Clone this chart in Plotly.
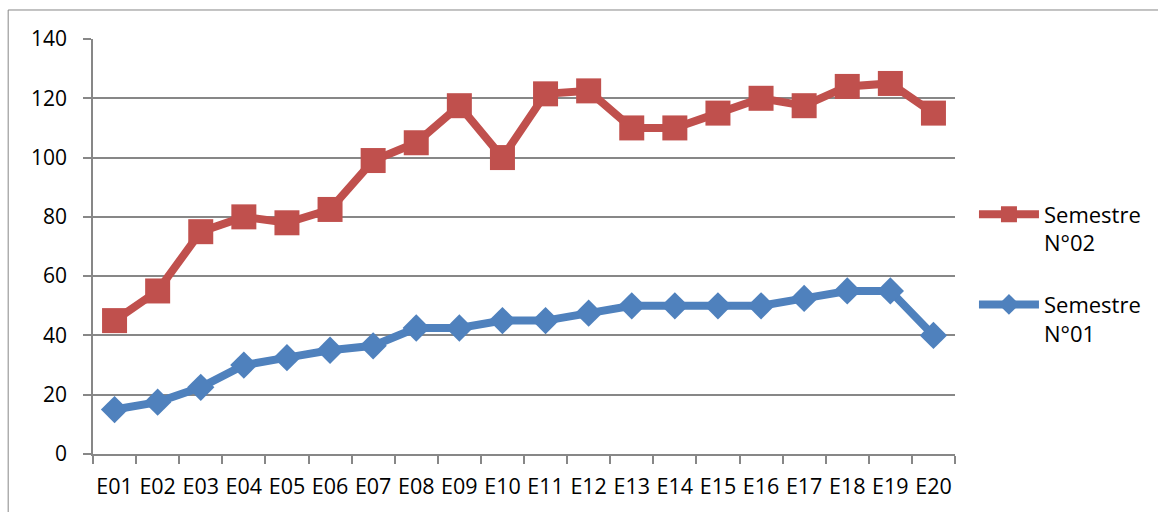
import plotly.graph_objects as go

categories = ["E%02d" % i for i in range(1, 21)]
sem01 = [15, 17.5, 22.5, 30, 32.5, 35, 36.5, 42.5, 42.5, 45, 45, 47.5, 50, 50, 50, 50, 52.5, 55, 55, 40]
sem02 = [45, 55, 75, 80, 78, 82.5, 99, 105, 117.5, 100, 121.5, 122.5, 110, 110, 115, 120, 117.5, 124, 125, 115]
y_ticks = [0, 20, 40, 60, 80, 100, 120, 140]

RED = "#C0504D"
BLUE = "#4F81BD"
GRID = "#878787"
FONT = "Open Sans"

fig = go.Figure()
fig.add_trace(go.Scatter(
    x=categories, y=sem01, name="Semestre<br>N°01", mode="lines+markers",
    line=dict(color=BLUE, width=8), legendgroup="a", legendrank=2,
    marker=dict(symbol="diamond", size=21, color=BLUE)))
fig.add_trace(go.Scatter(
    x=categories, y=sem02, name="Semestre<br>N°02", mode="lines+markers",
    line=dict(color=RED, width=8), legendgroup="b", legendrank=1,
    marker=dict(symbol="square", size=25, color=RED)))

fig.update_layout(
    width=1158, height=512,
    margin=dict(l=93, r=201, t=39, b=58),
    paper_bgcolor="white", plot_bgcolor="white",
    font=dict(family=FONT, size=21, color="black"),
    showlegend=True,
    legend=dict(x=1.022, xanchor="left", y=0.628, yanchor="top",
                traceorder="grouped", valign="top", tracegroupgap=30,
                font=dict(family=FONT, size=22), itemwidth=60),
    xaxis=dict(type="category", range=[-0.5, 19.5], showgrid=False,
               showline=True, linecolor=GRID, linewidth=1.5,
               ticks="outside", tickson="boundaries", ticklen=8,
               tickcolor=GRID, tickwidth=1.5, tickangle=0,
               ticklabelstandoff=12,
               tickfont=dict(family=FONT, size=21.5)),
    yaxis=dict(range=[0, 140], tickvals=y_ticks, showgrid=True,
               gridcolor=GRID, gridwidth=1.5, zeroline=False,
               showline=True, linecolor=GRID, linewidth=1.5,
               ticks="outside", ticklen=8, tickcolor=GRID, tickwidth=1.5,
               ticklabelstandoff=12),
    shapes=[dict(type="rect", xref="paper", yref="paper",
                 x0=-0.0984, x1=1.5, y0=-0.5, y1=1.0699,
                 line=dict(color=GRID, width=1), layer="below")],
)

fig.write_html("out.html")
